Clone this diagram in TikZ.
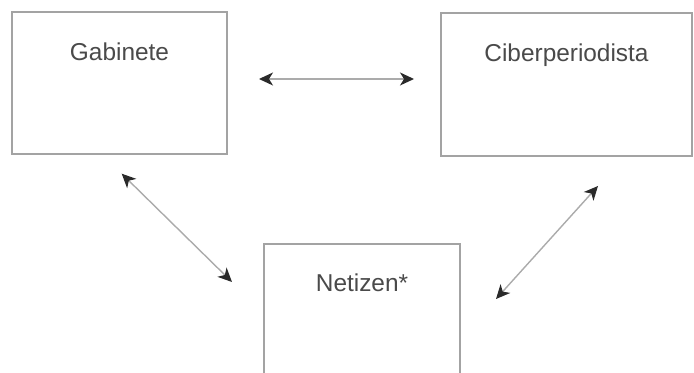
\documentclass[tikz,border=0pt]{standalone}
\usepackage{fontspec}
\setmainfont{Liberation Sans}
\usetikzlibrary{arrows.meta}
\definecolor{framegray}{HTML}{A3A3A3}
\definecolor{linegray}{HTML}{ABABAB}
\definecolor{txtgray}{HTML}{4A4A4A}
\definecolor{tipgray}{HTML}{2A2A2A}
\begin{document}
\begin{tikzpicture}[x=0.5pt, y=0.5pt,
  box/.style={draw=framegray, line width=1pt, fill=white, inner sep=0pt},
  boxtitle/.style={anchor=base, yshift=-25pt, inner sep=0pt, text=txtgray,
    font=\fontsize{12.2}{14}\selectfont},
  tip/.style={Stealth[length=7pt, width=6.5pt, inset=2pt, color=tipgray]},
  biarrow/.style={draw=linegray, line width=0.7pt, {Stealth[length=7pt, width=6.5pt, inset=2pt, color=tipgray]}-{Stealth[length=7pt, width=6.5pt, inset=2pt, color=tipgray]}}]
\useasboundingbox (0,0) rectangle (694,373);
\clip (0,0) rectangle (694,373);

%boxes
\node[box, minimum width=107.5pt, minimum height=71pt,
  label={[boxtitle]north:Gabinete}] (gab) at (119.5,290) {};
\node[box, minimum width=125.5pt, minimum height=71.5pt,
  label={[boxtitle]north:Ciberperiodista}] (cib) at (566.5,288.5) {};
\node[box, minimum width=98pt, minimum height=71pt,
  label={[boxtitle, yshift=0.5pt]north:Netizen*}] (net) at (362,58) {};

%arrows
\draw[biarrow] ([shift={(31,4)}]gab.east) -- ([shift={(-26,5.5)}]cib.west);
\draw[biarrow] ([shift={(2.2,-18.7)}]gab.south) -- ([shift={(-31,-39)}]net.north west);
\draw[biarrow] ([shift={(31.5,-29)}]cib.south) -- ([shift={(35,-56)}]net.north east);
\end{tikzpicture}
\end{document}
